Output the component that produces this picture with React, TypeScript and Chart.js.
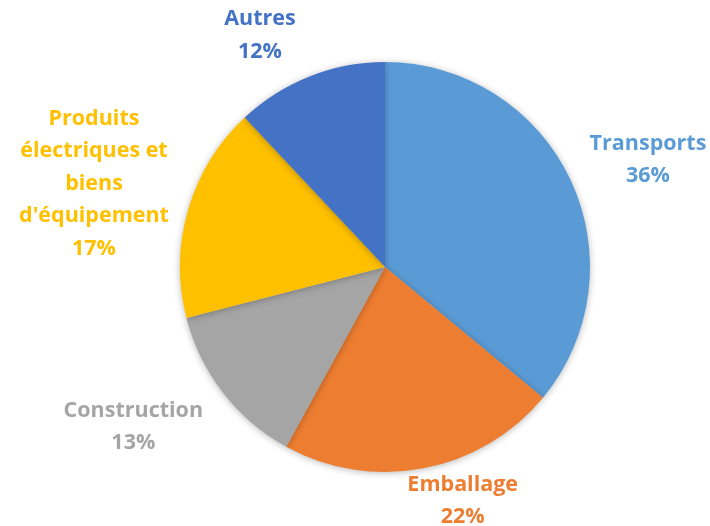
import React, { useEffect, useRef } from "react";
import { Chart, registerables } from "chart.js";

Chart.register(...registerables);

const categories = ["Transports", "Emballage", "Construction", "Produits électriques et biens d'équipement", "Autres"];
const labelLines = [["Transports"], ["Emballage"], ["Construction"], ["Produits", "électriques et", "biens", "d'équipement"], ["Autres"]];
const values = [36, 22, 13, 17, 12];
const colors = ["#5B9BD5", "#ED7D31", "#A5A5A5", "#FFC000", "#4472C4"];
const labelColors = ["#5B9BD5", "#ED7D31", "#A5A5A5", "#FFC000", "#4472C4"];

// label placement style: extra distance beyond the radius and small nudges
const labelGap = [79, 39, 92, 97, 56];
const labelNudge = [[6, 14], [32, -6], [-17, -22], [-1, 1], [-29, 11]];

const shadowPlugin = {
  id: "pieShadow",
  beforeDatasetDraw(chart: any) {
    const ctx = chart.ctx;
    ctx.save();
    ctx.shadowColor = "rgba(0,0,0,0.28)";
    ctx.shadowBlur = 7;
    ctx.shadowOffsetX = 0;
    ctx.shadowOffsetY = 1;
  },
  afterDatasetDraw(chart: any) {
    chart.ctx.restore();
  },
};

const labelPlugin = {
  id: "outLabels",
  afterDraw(chart: any) {
    const ctx = chart.ctx;
    const meta = chart.getDatasetMeta(0);
    const total = values.reduce((a, b) => a + b, 0);
    ctx.save();
    ctx.font = "bold 21.5px 'Open Sans'";
    ctx.textAlign = "center";
    ctx.textBaseline = "middle";
    const lh = 32.5;
    meta.data.forEach((arc: any, i: number) => {
      const p = arc.getProps(["x", "y", "startAngle", "endAngle", "outerRadius"], true);
      const mid = (p.startAngle + p.endAngle) / 2;
      const d = p.outerRadius + labelGap[i];
      const cx = p.x + Math.cos(mid) * d + labelNudge[i][0];
      const cy = p.y + Math.sin(mid) * d + labelNudge[i][1];
      const lines = [...labelLines[i], Math.round((values[i] / total) * 100) + "%"];
      const y0 = cy - ((lines.length - 1) * lh) / 2;
      ctx.fillStyle = labelColors[i];
      lines.forEach((t: string, k: number) => ctx.fillText(t, cx, y0 + k * lh));
    });
    ctx.restore();
  },
};

export default function App() {
  const ref = useRef<HTMLCanvasElement>(null);
  useEffect(() => {
    const chart = new Chart(ref.current!, {
      type: "pie",
      data: {
        labels: categories,
        datasets: [{ data: values, backgroundColor: colors, borderWidth: 0 }],
      },
      options: {
        animation: false,
        responsive: false,
        layout: { padding: { left: 180, right: 120, top: 62, bottom: 54 } },
        plugins: { legend: { display: false }, tooltip: { enabled: false } },
      },
      plugins: [shadowPlugin, labelPlugin],
    });
    return () => chart.destroy();
  }, []);
  return (
    <div style={{ position: "fixed", left: 0, top: 0, width: 710, height: 526, background: "#fff" }}>
      <canvas ref={ref} width={710} height={526} />
    </div>
  );
}
